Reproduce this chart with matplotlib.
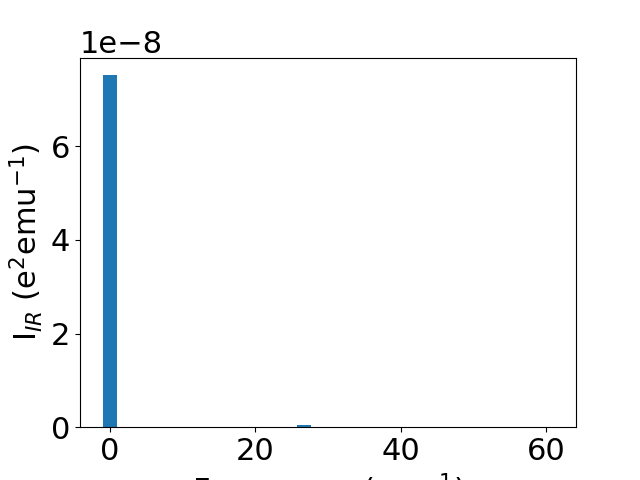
import matplotlib
matplotlib.use('Agg')
from matplotlib import pyplot as plt

freqs = [0.0, 26.7, 60.0]
intensities = [7.52e-8, 5.0e-10, 1.0e-12]

plt.rcParams['font.size'] = 22
fig, ax = plt.subplots(figsize=(6.4, 4.8), dpi=100)
ax.bar(freqs, intensities, width=2.0)
ax.set_xlabel('Frequency (cm$^{-1}$)')
ax.set_ylabel('I$_{IR}$ (e$^2$emu$^{-1}$)')
fig.savefig('out.png')
